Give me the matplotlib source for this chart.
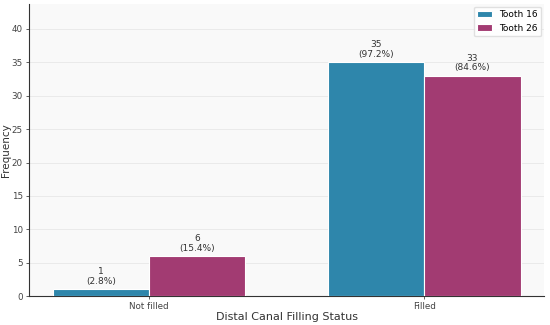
import matplotlib
matplotlib.use("Agg")
import matplotlib.pyplot as plt
import numpy as np

categories = ["Not filled", "Filled"]
tooth16 = [1, 35]
tooth26 = [6, 33]
pct16 = [2.8, 97.2]
pct26 = [15.4, 84.6]
series_names = ["Tooth 16", "Tooth 26"]

fig = plt.figure(figsize=(5.5, 3.25), dpi=100)
ax = fig.add_axes([0.053, 0.089, 0.936, 0.899])
ax.set_facecolor("#f9f9f9")
x = np.arange(len(categories))
w = 0.35
b1 = ax.bar(x - w/2, tooth16, w, color="#2E86AB", edgecolor="white", linewidth=0.8, label=series_names[0], zorder=3)
b2 = ax.bar(x + w/2, tooth26, w, color="#A23B72", edgecolor="white", linewidth=0.8, label=series_names[1], zorder=3)
for bars, vals, pcts in [(b1, tooth16, pct16), (b2, tooth26, pct26)]:
    for r, v, p in zip(bars, vals, pcts):
        ax.text(r.get_x() + r.get_width()/2, v + 0.5, f"{v}\n({p}%)", ha="center", va="bottom",
                fontsize=6.5, color="#333333", linespacing=1.1)
ax.set_ylim(0, 43.75)
ax.set_xticks(x)
ax.set_xticklabels(categories)
ax.grid(axis="y", color="#e8e8e8", linewidth=0.6, zorder=0)
ax.set_axisbelow(True)
for s in ["top", "right"]:
    ax.spines[s].set_visible(False)
for s in ["left", "bottom"]:
    ax.spines[s].set_color("#333333")
    ax.spines[s].set_linewidth(0.8)
ax.tick_params(labelsize=6.3, colors="#444444", length=2.5, width=0.6, pad=2)
ax.set_ylabel("Frequency", fontsize=7.5, color="#333333")
ax.set_xlabel("Distal Canal Filling Status", fontsize=8, color="#333333")
ax.yaxis.set_label_coords(-0.045, 0.5)
ax.xaxis.set_label_coords(0.5, -0.072)
ax.xaxis.label.set_va("center")
ax.yaxis.label.set_va("center")
ax.legend(fontsize=6.5, loc="upper right", frameon=True, framealpha=0.9, edgecolor="#dddddd",
          handlelength=1.6, borderaxespad=0.3)
fig.savefig("out.png", dpi=100)
